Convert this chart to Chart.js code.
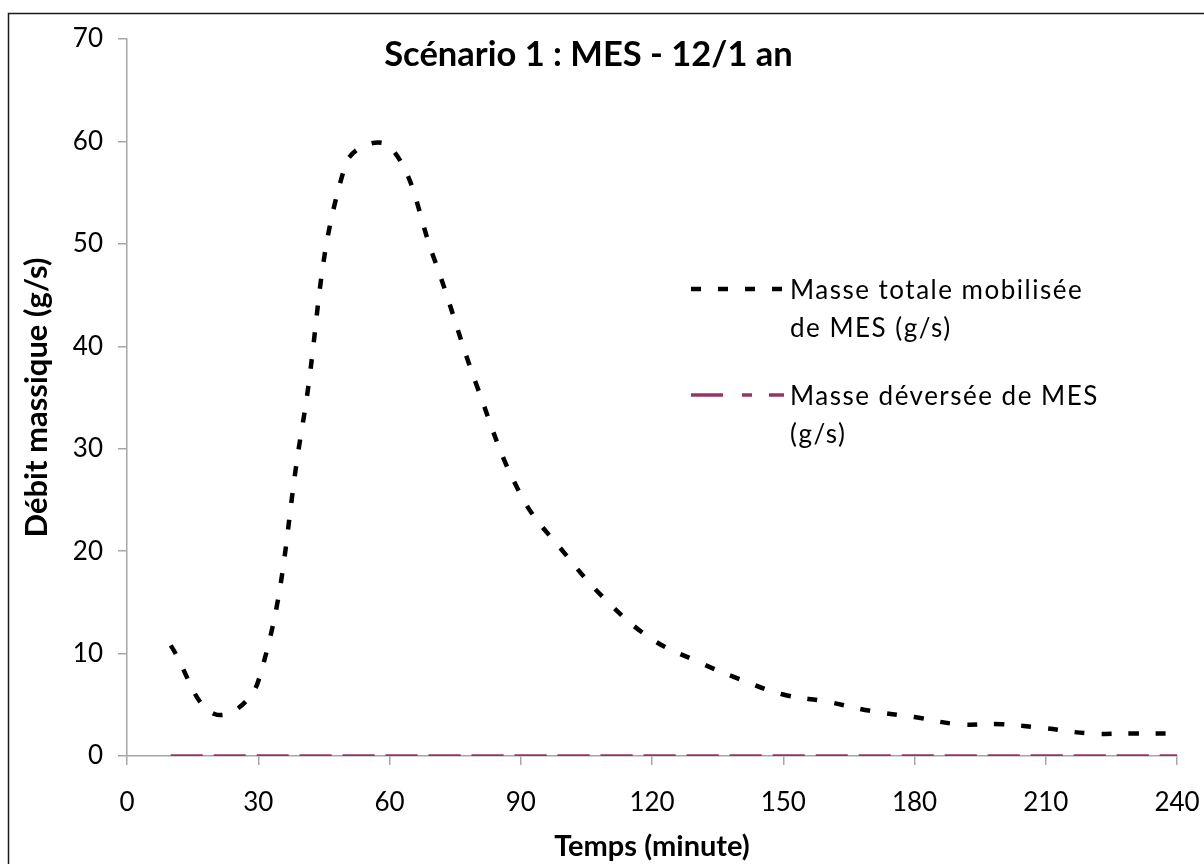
<!DOCTYPE html>
<html>
<head>
<meta charset="utf-8">
<script src="https://cdn.jsdelivr.net/npm/chart.js@4.4.0/dist/chart.umd.min.js"></script>
<style>
  html, body { margin: 0; padding: 0; background: #fff; }
  #wrap { width: 1204px; height: 864px; }
</style>
</head>
<body>
<div id="wrap"><canvas id="myChart" width="1204" height="864"></canvas></div>
<script>
// data
const minutes = [10, 20, 30, 40, 50, 60, 70, 80, 90, 100, 110, 120,
                 130, 140, 150, 160, 170, 180, 190, 200, 210, 220, 230, 240];
const masseTotale = [10.8, 4.1, 7.3, 32.0, 57.8, 59.5, 48.8, 36.1, 25.5, 19.8, 15.0, 11.4,
                     9.3, 7.5, 6.0, 5.3, 4.4, 3.8, 3.1, 3.1, 2.7, 2.2, 2.2, 2.2];
const masseDeversee = [0, 0, 0, 0, 0, 0, 0, 0, 0, 0, 0, 0,
                       0, 0, 0, 0, 0, 0, 0, 0, 0, 0, 0, 0];
const xTickValues = [0, 30, 60, 90, 120, 150, 180, 210, 240];
const yTickValues = [0, 10, 20, 30, 40, 50, 60, 70];
const seriesLabels = ["Masse totale mobilisée de MES (g/s)", "Masse déversée de MES (g/s)"];

const axisGrey = "#a6a6a6";
Chart.defaults.font.family = "Lato, 'Open Sans', sans-serif";
Chart.defaults.color = "#000";

// outer black frame of the chart object
const framePlugin = {
  id: "frame",
  beforeDraw(chart) {
    const ctx = chart.ctx;
    ctx.save();
    ctx.fillStyle = "#fff";
    ctx.fillRect(0, 0, chart.width, chart.height);
    ctx.strokeStyle = "#1a1a1a";
    ctx.lineWidth = 1.5;
    ctx.strokeRect(8.5, 13.5, chart.width + 40, chart.height + 40);
    ctx.restore();
  }
};

// legend drawn inside the plot, with wrapped labels
const insideLegend = {
  id: "insideLegend",
  afterDatasetsDraw(chart, args, opts) {
    const ctx = chart.ctx;
    ctx.save();
    ctx.font = opts.fontSize + "px " + Chart.defaults.font.family;
    ctx.letterSpacing = opts.letterSpacing;
    ctx.fillStyle = "#000";
    ctx.textBaseline = "alphabetic";
    chart.data.datasets.forEach((ds, i) => {
      const yLine = opts.lineY[i];
      ctx.save();
      ctx.strokeStyle = ds.borderColor;
      ctx.lineWidth = ds.borderWidth;
      ctx.setLineDash(opts.sampleDash[i] || ds.borderDash || []);
      ctx.beginPath();
      ctx.moveTo(opts.x0, yLine);
      ctx.lineTo(opts.x1, yLine);
      ctx.stroke();
      ctx.restore();

      // word wrap
      const words = ds.label.split(" ");
      const lines = [];
      let cur = "";
      words.forEach(w => {
        const test = cur ? cur + " " + w : w;
        if (ctx.measureText(test).width > opts.maxWidth && cur) {
          lines.push(cur);
          cur = w;
        } else {
          cur = test;
        }
      });
      lines.push(cur);
      lines.forEach((ln, k) => {
        ctx.fillText(ln, opts.textX, yLine + opts.baseOffset + k * opts.lineGap);
      });
    });
    ctx.restore();
  }
};

const ctx = document.getElementById("myChart").getContext("2d");

const myChart = new Chart(ctx, {
  type: "line",
  data: {
    datasets: [
      {
        label: seriesLabels[0],
        data: minutes.map((m, i) => ({ x: m, y: masseTotale[i] })),
        borderColor: "#000000",
        borderWidth: 4.5,
        borderDash: [10, 17],
        tension: 0.4,
        pointRadius: 0,
        fill: false
      },
      {
        label: seriesLabels[1],
        data: minutes.map((m, i) => ({ x: m, y: masseDeversee[i] })),
        borderColor: "#993366",
        borderWidth: 3.5,
        borderDash: [32, 11],
        tension: 0.4,
        pointRadius: 0,
        fill: false
      }
    ]
  },
  options: {
    responsive: false,
    animation: false,
    events: [],
    layout: { padding: { left: 0, right: 27, top: 0, bottom: 0 } },
    plugins: {
      legend: { display: false },
      tooltip: { enabled: false },
      title: {
        display: true,
        text: "Scénario 1 : MES - 12/1 an",
        font: { size: 34.5, weight: "bold" },
        color: "#000",
        padding: { top: 34.3, bottom: -36.7 }
      },
      insideLegend: {
        x0: 691, x1: 784, textX: 790,
        lineY: [289, 395],
        sampleDash: [null, [32, 19, 10, 17]],
        baseOffset: 10, lineGap: 38,
        fontSize: 26, letterSpacing: "1.5px", maxWidth: 320
      }
    },
    scales: {
      x: {
        type: "linear",
        min: 0,
        max: 240,
        afterBuildTicks: (scale) => { scale.ticks = xTickValues.map(v => ({ value: v })); },
        afterFit: (scale) => {
          scale.height = 108;
          scale.paddingLeft = 0;
          scale.paddingRight = 0;
        },
        grid: { drawOnChartArea: false, drawTicks: true, tickLength: 9, color: axisGrey, lineWidth: 1.5 },
        border: { color: axisGrey, width: 1.5 },
        ticks: { font: { size: 26 }, padding: 22, maxRotation: 0, color: "#000" },
        title: {
          display: true,
          text: "Temps (minute)",
          font: { size: 29, weight: "bold" },
          padding: { top: 0, bottom: 0 }
        }
      },
      y: {
        min: 0,
        max: 70,
        afterBuildTicks: (scale) => { scale.ticks = yTickValues.map(v => ({ value: v })); },
        afterFit: (scale) => { scale.width = 127; },
        grid: { drawOnChartArea: false, drawTicks: true, tickLength: 9, color: axisGrey, lineWidth: 1.5 },
        border: { color: axisGrey, width: 1.5 },
        ticks: { font: { size: 26 }, padding: 15, color: "#000" },
        title: {
          display: true,
          text: "Débit massique (g/s)",
          font: { size: 31, weight: "bold" },
          padding: { top: 18.4, bottom: 0 }
        }
      }
    }
  },
  plugins: [framePlugin, insideLegend]
});
</script>
</body>
</html>
